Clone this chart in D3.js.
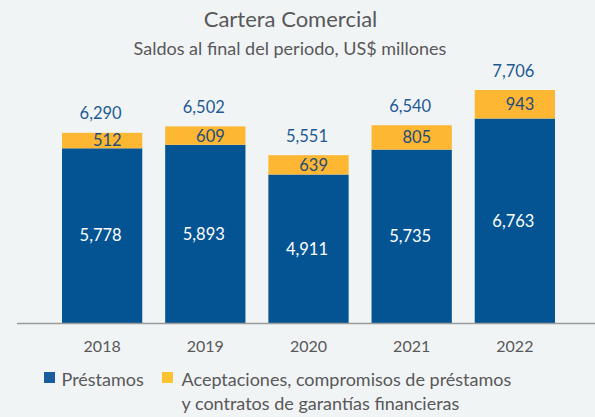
<!DOCTYPE html>
<html><head><meta charset="utf-8">
<script src="https://cdn.jsdelivr.net/npm/d3@7"></script>
<style>
html,body{margin:0;padding:0;background:#f1f4f5;}
svg{display:block;}
text{font-family:"Lato","Open Sans",sans-serif;}
</style></head>
<body>
<svg id="c" width="595" height="417"></svg>
<script>
const years = ["2018","2019","2020","2021","2022"];
const prestamos = [5778, 5893, 4911, 5735, 6763];
const aceptaciones = [512, 609, 639, 805, 943];
const totals = [6290, 6502, 5551, 6540, 7706];
const title = "Cartera Comercial";
const subtitle = "Saldos al final del periodo, US$ millones";
const legendLabels = ["Préstamos", ["Aceptaciones, compromisos de préstamos", "y contratos de garantías financieras"]];

const blue = "#045494", yellow = "#fdb733", textGrey = "#58585a", labelBlue = "#1d5a95";
const svg = d3.select("#c");

svg.append("rect").attr("width",595).attr("height",417).attr("fill","#f1f4f5");

svg.append("text").attr("x",290.5).attr("y",27).attr("text-anchor","middle")
  .attr("font-size",22).attr("fill",textGrey).text(title);
svg.append("text").attr("x",290).attr("y",55).attr("text-anchor","middle")
  .attr("font-size",18).attr("fill",textGrey).text(subtitle);

const x = d3.scaleBand().domain(years).range([62,555]).paddingInner(0.222).paddingOuter(0);
const y = d3.scaleLinear().domain([0,7706]).range([323,90]);
const fmt = d3.format(",");
const lx = d => x(d.yr) + x.bandwidth()/2 + 19.5;

const data = years.map((yr,i)=>({yr, p:prestamos[i], a:aceptaciones[i], t:totals[i]}));

const g = svg.append("g");
g.selectAll("rect.p").data(data).join("rect").attr("class","p")
  .attr("x",d=>x(d.yr)).attr("width",x.bandwidth())
  .attr("y",d=>y(d.p)).attr("height",d=>y(0)-y(d.p)).attr("fill",blue);
g.selectAll("rect.a").data(data).join("rect").attr("class","a")
  .attr("x",d=>x(d.yr)).attr("width",x.bandwidth())
  .attr("y",d=>y(d.p+d.a)).attr("height",d=>y(d.p)-y(d.p+d.a)).attr("fill",yellow);

// axis
const axis = d3.axisBottom(x).tickSize(0).tickPadding(17.5);
const ax = svg.append("g").attr("transform","translate(0,323)").call(axis);
ax.select(".domain").attr("d","M17,0.5H595").attr("stroke","#9a9a9a").attr("stroke-width",1.5);
ax.selectAll("text").attr("font-size",16).attr("fill",textGrey).attr("font-family",null);

// labels
g.selectAll("text.pl").data(data).join("text").attr("class","pl")
  .attr("x",lx).attr("y",d=>(y(0)+y(d.p))/2).attr("dy","0.35em")
  .attr("text-anchor","end").attr("font-size",16.5).attr("fill","#ffffff").text(d=>fmt(d.p));
g.selectAll("text.al").data(data).join("text").attr("class","al")
  .attr("x",lx).attr("y",d=>(y(d.p)+y(d.p+d.a))/2).attr("dy","0.36em")
  .attr("text-anchor","end").attr("font-size",16.5).attr("fill","#1e4c7c").text(d=>fmt(d.a));
g.selectAll("text.tl").data(data).join("text").attr("class","tl")
  .attr("x",lx).attr("y",d=>y(d.t)-13.5)
  .attr("text-anchor","end").attr("font-size",16.5).attr("fill",labelBlue).text(d=>fmt(d.t));

// legend
const lg = svg.append("g");
lg.append("rect").attr("x",44).attr("y",372).attr("width",11).attr("height",11).attr("fill","#1a5c9e");
lg.append("text").attr("x",61.5).attr("y",386).attr("font-size",18).attr("fill",textGrey).text(legendLabels[0]);
lg.append("rect").attr("x",162).attr("y",372).attr("width",11).attr("height",11).attr("fill","#fdc22f");
lg.append("text").attr("x",181.5).attr("y",386).attr("font-size",18).attr("fill",textGrey).text(legendLabels[1][0]);
lg.append("text").attr("x",181.5).attr("y",410).attr("font-size",18).attr("fill",textGrey).text(legendLabels[1][1]);
</script>
</body></html>
